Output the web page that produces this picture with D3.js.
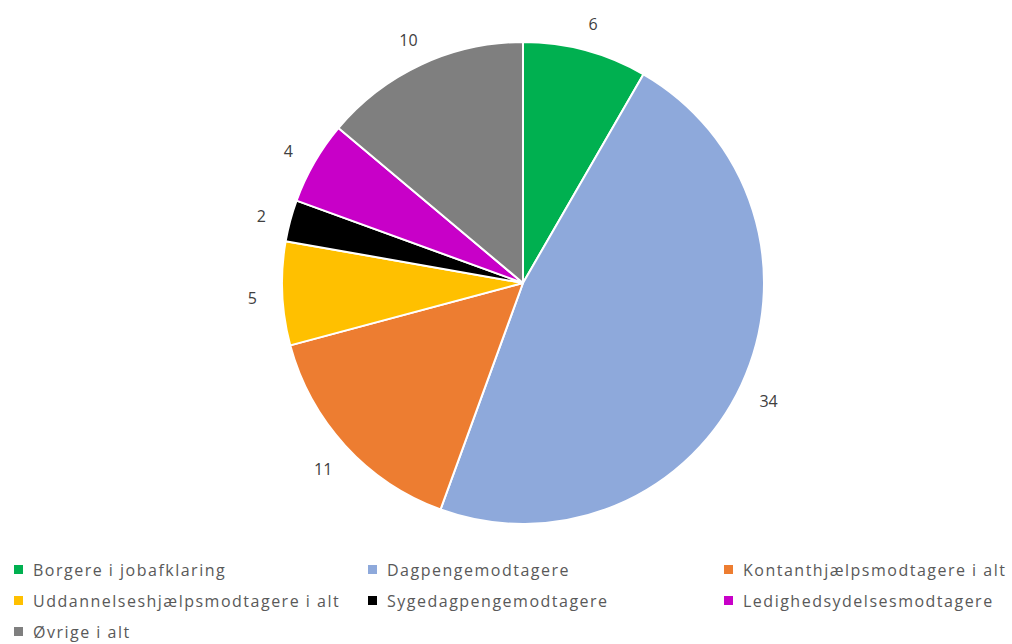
<!DOCTYPE html>
<html>
<head>
<meta charset="utf-8">
<script src="https://cdn.jsdelivr.net/npm/d3@7"></script>
<style>
  html, body { margin: 0; padding: 0; background: #fff; }
  svg { display: block; }
</style>
</head>
<body>
<svg id="chart" width="1012" height="644"></svg>
<script>
const categories = [
  "Borgere i jobafklaring",
  "Dagpengemodtagere",
  "Kontanthjælpsmodtagere i alt",
  "Uddannelseshjælpsmodtagere i alt",
  "Sygedagpengemodtagere",
  "Ledighedsydelsesmodtagere",
  "Øvrige i alt"
];
const values = [6, 34, 11, 5, 2, 4, 10];
const colors = ["#00B050", "#8EA9DB", "#ED7D31", "#FFC000", "#000000", "#C800C8", "#7F7F7F"];

const data = categories.map((c, i) => ({ name: c, value: values[i], color: colors[i] }));

const svg = d3.select("#chart");
const cx = 523, cy = 283, r = 241, labelR = 271;

const pie = d3.pie().value(d => d.value).sort(null);
const arcs = pie(data);
const arc = d3.arc().innerRadius(0).outerRadius(r);
const labelArc = d3.arc().innerRadius(labelR).outerRadius(labelR);

const g = svg.append("g").attr("transform", `translate(${cx},${cy})`);

g.selectAll("path.slice")
  .data(arcs)
  .join("path")
  .attr("class", "slice")
  .attr("d", arc)
  .attr("fill", d => d.data.color)
  .attr("stroke", "#fff")
  .attr("stroke-width", 2)
  .attr("stroke-linejoin", "round");

g.selectAll("text.lbl")
  .data(arcs)
  .join("text")
  .attr("class", "lbl")
  .attr("transform", d => { const c = labelArc.centroid(d); return `translate(${c[0]},${c[1] + 3})`; })
  .attr("text-anchor", "middle")
  .attr("dominant-baseline", "central")
  .attr("font-family", "'Open Sans', 'Noto Sans', sans-serif")
  .attr("font-size", 16)
  .attr("fill", "#404040")
  .text(d => d.data.value);

// Legend
const colX = [14, 368, 724];
const rowY = [570, 601, 632];
const legend = svg.append("g");
const items = legend.selectAll("g.item")
  .data(data)
  .join("g")
  .attr("class", "item")
  .attr("transform", (d, i) => `translate(${colX[i % 3]},${rowY[Math.floor(i / 3)]})`);

items.append("rect")
  .attr("x", 0).attr("y", -5)
  .attr("width", 9).attr("height", 9)
  .attr("fill", d => d.color);

items.append("text")
  .attr("x", 19)
  .attr("y", 0)
  .attr("dominant-baseline", "central")
  .attr("font-family", "'Open Sans', 'Noto Sans', sans-serif")
  .attr("font-size", 16)
  .attr("letter-spacing", 1.5)
  .attr("fill", "#595959")
  .text(d => d.name);
</script>
</body>
</html>
